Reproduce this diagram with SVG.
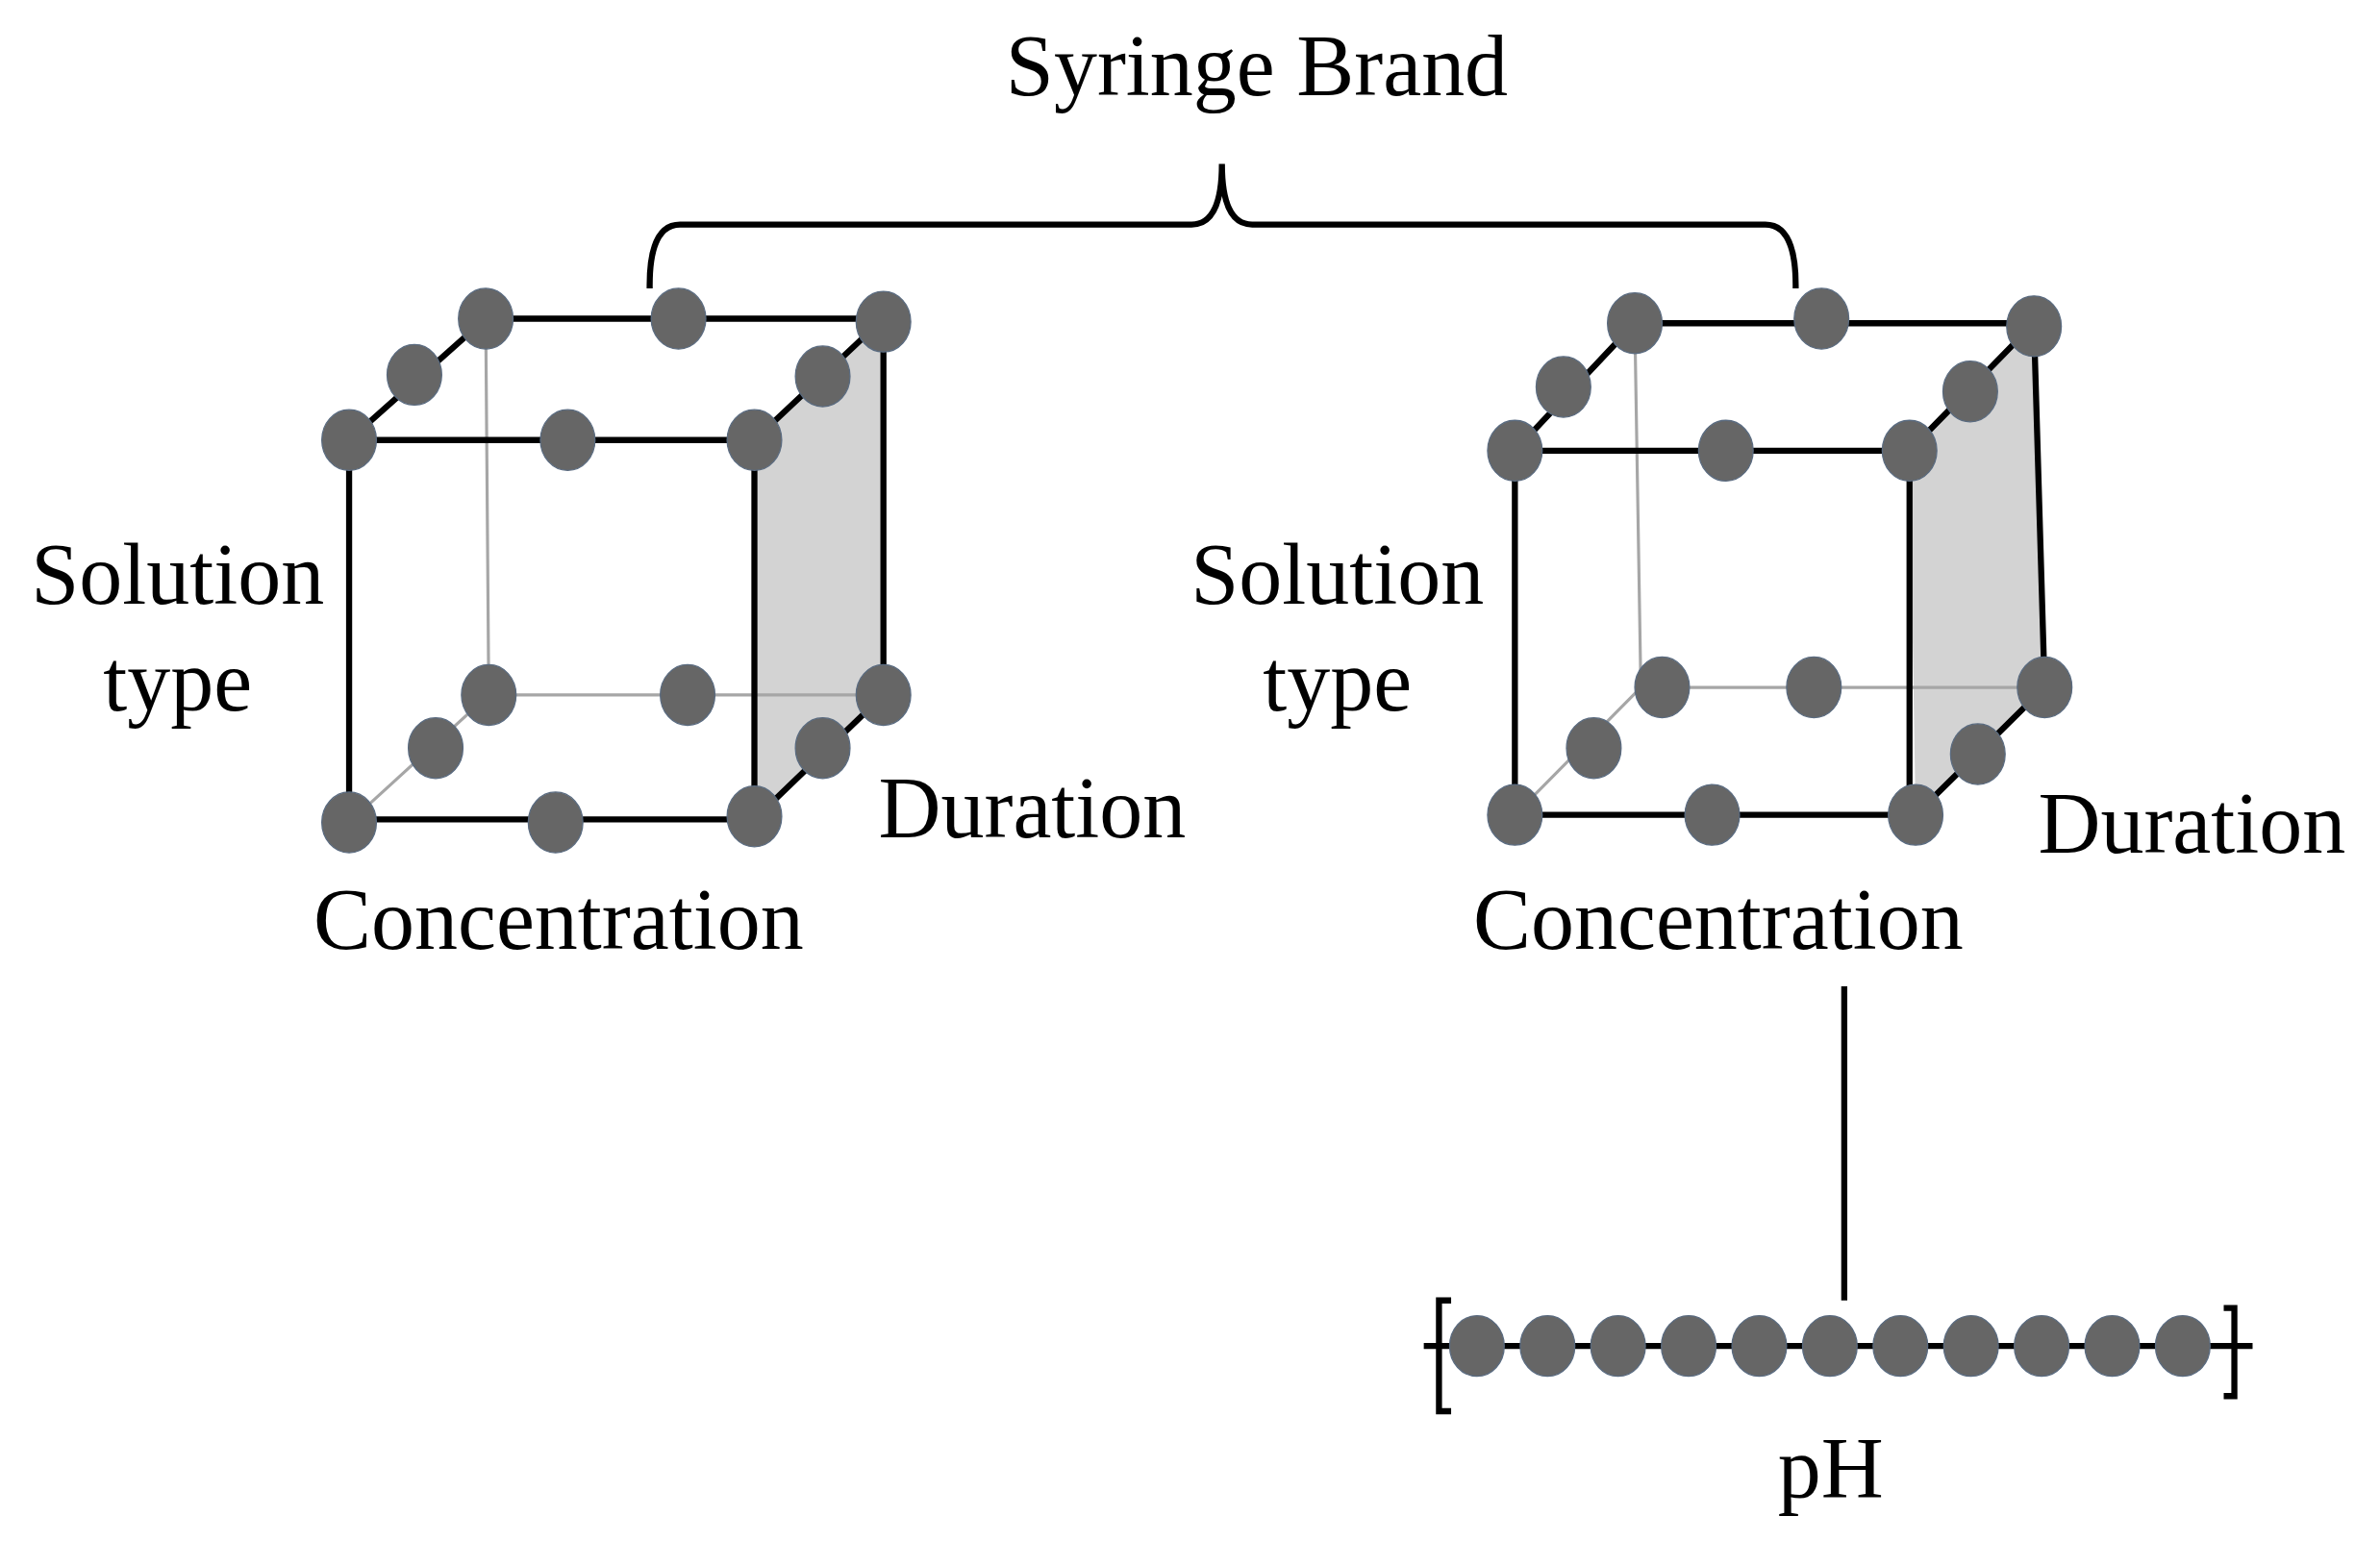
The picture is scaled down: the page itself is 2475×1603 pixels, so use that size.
<svg xmlns="http://www.w3.org/2000/svg" width="2475" height="1603" viewBox="0 0 2475 1603">
<style>
.k{stroke:#000;stroke-width:4;fill:none;stroke-linecap:square}
.g{stroke:#a6a6a6;stroke-width:2;fill:none}
.d{fill:#666;stroke:#5a6b80;stroke-width:0.8}
.t{font-family:"Liberation Serif","Times New Roman",serif;font-size:57px;fill:#000}
.f{fill:#d3d3d3}
</style>
<defs><ellipse id="p" class="d" rx="18" ry="20"/></defs>
<rect width="2475" height="1603" fill="#fff"/>
<g transform="scale(1.5785)">
<g id="connectors">
<path class="k" d="M428,188 Q428,148 448,148 L785,148 Q805,148 805,108 Q805,148 825,148 L1163,148 Q1183,148 1183,188" stroke-linecap="round"/>
<line class="k" x1="1215" y1="652" x2="1215" y2="855"/>
</g>
<g id="cube-left">
<polygon class="f" points="497,290 582,210 582,458 497,540"/>
<path class="g" d="M320,210 L322,458 L582,458 M230,542 L322,458"/>
<path class="k" d="M230,290 H497 V540 H230 Z M230,290 L320,210 H582 L497,290 M582,210 V458 L497,540"/>
<use href="#p" x="320" y="210"/><use href="#p" x="447" y="210"/><use href="#p" x="582" y="212"/>
<use href="#p" x="273" y="247"/><use href="#p" x="542" y="248"/>
<use href="#p" x="230" y="290"/><use href="#p" x="374" y="290"/><use href="#p" x="497" y="290"/>
<use href="#p" x="322" y="458"/><use href="#p" x="453" y="458"/><use href="#p" x="582" y="458"/>
<use href="#p" x="287" y="493"/><use href="#p" x="542" y="493"/>
<use href="#p" x="230" y="542"/><use href="#p" x="366" y="542"/><use href="#p" x="497" y="538"/>
</g>
<g id="cube-right">
<polygon class="f" points="1258,297 1340,215 1347,453 1262,537"/>
<path class="g" d="M1077,213 L1081,453 L1347,453 M998,537 L1081,453"/>
<path class="k" d="M998,297 H1258 V537 H998 Z M998,297 L1077,213 H1340 L1258,297 M1340,215 L1347,453 L1262,537"/>
<use href="#p" x="1077" y="213"/><use href="#p" x="1200" y="210"/><use href="#p" x="1340" y="215"/>
<use href="#p" x="1030" y="255"/><use href="#p" x="1298" y="258"/>
<use href="#p" x="998" y="297"/><use href="#p" x="1137" y="297"/><use href="#p" x="1258" y="297"/>
<use href="#p" x="1095" y="453"/><use href="#p" x="1195" y="453"/><use href="#p" x="1347" y="453"/>
<use href="#p" x="1050" y="493"/><use href="#p" x="1303" y="497"/>
<use href="#p" x="998" y="537"/><use href="#p" x="1128" y="537"/><use href="#p" x="1262" y="537"/>
</g>
<g id="ph-scale">
<line class="k" x1="940" y1="887" x2="1482" y2="887"/>
<path class="k" d="M954,857 H948 V930 H954 M1467,862 H1472 V920 H1467" stroke-linecap="butt"/>
<use href="#p" x="973" y="887"/><use href="#p" x="1019.5" y="887"/><use href="#p" x="1066" y="887"/><use href="#p" x="1112.5" y="887"/><use href="#p" x="1159" y="887"/><use href="#p" x="1205.5" y="887"/><use href="#p" x="1252" y="887"/><use href="#p" x="1298.5" y="887"/><use href="#p" x="1345" y="887"/><use href="#p" x="1391.5" y="887"/><use href="#p" x="1438" y="887"/>
</g>
<g id="labels">
<text class="t" x="828" y="63" text-anchor="middle">Syringe Brand</text>
<text class="t" x="117" y="398" text-anchor="middle">Solution</text>
<text class="t" x="117" y="468" text-anchor="middle">type</text>
<text class="t" x="881" y="398" text-anchor="middle">Solution</text>
<text class="t" x="881" y="468" text-anchor="middle">type</text>
<text class="t" x="680" y="552" text-anchor="middle">Duration</text>
<text class="t" x="1444" y="562" text-anchor="middle">Duration</text>
<text class="t" x="368" y="625" text-anchor="middle">Concentration</text>
<text class="t" x="1132" y="625" text-anchor="middle">Concentration</text>
<text class="t" x="1206" y="987" text-anchor="middle">pH</text>
</g>
</g>
</svg>
